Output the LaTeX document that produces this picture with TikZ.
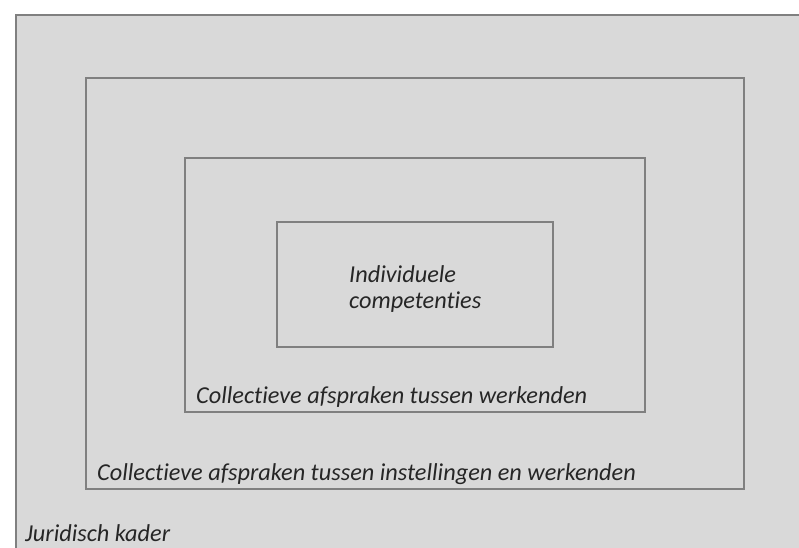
\documentclass[tikz,border=0pt]{standalone}
\usepackage{fontspec}
\setmainfont{Carlito}[Ligatures=NoCommon]
\definecolor{panel}{HTML}{D9D9D9}
\definecolor{edge}{HTML}{808080}
\definecolor{ink}{HTML}{262626}
\begin{document}
\begin{tikzpicture}[x=1pt,y=-1pt,
  frame/.style={draw=edge,fill=panel,line width=2pt},
  lbl/.style={inner sep=0pt,anchor=base west,text=ink,font=\fontsize{24.3}{26}\selectfont\itshape}]
\useasboundingbox[fill=white] (0,0) rectangle (799,547);
\begin{scope}
\clip (0,0) rectangle (799,547);
\draw[frame] (16,15) rectangle (830,580);
\end{scope}
\draw[frame] (86,78) rectangle (744,489);
\draw[frame] (185,158) rectangle (645,412);
\draw[frame] (277,222) rectangle (553,347);
\node[lbl,align=left] (ind) at (349,308) {Individuele\\competenties};
\node[lbl] (werk) at (196,403) {Collectieve afspraken tussen werkenden};
\node[lbl] (inst) at (97,480) {Collectieve afspraken tussen instellingen en werkenden};
\node[lbl] (jur) at (25,541) {Juridisch kader};
\end{tikzpicture}
\end{document}
